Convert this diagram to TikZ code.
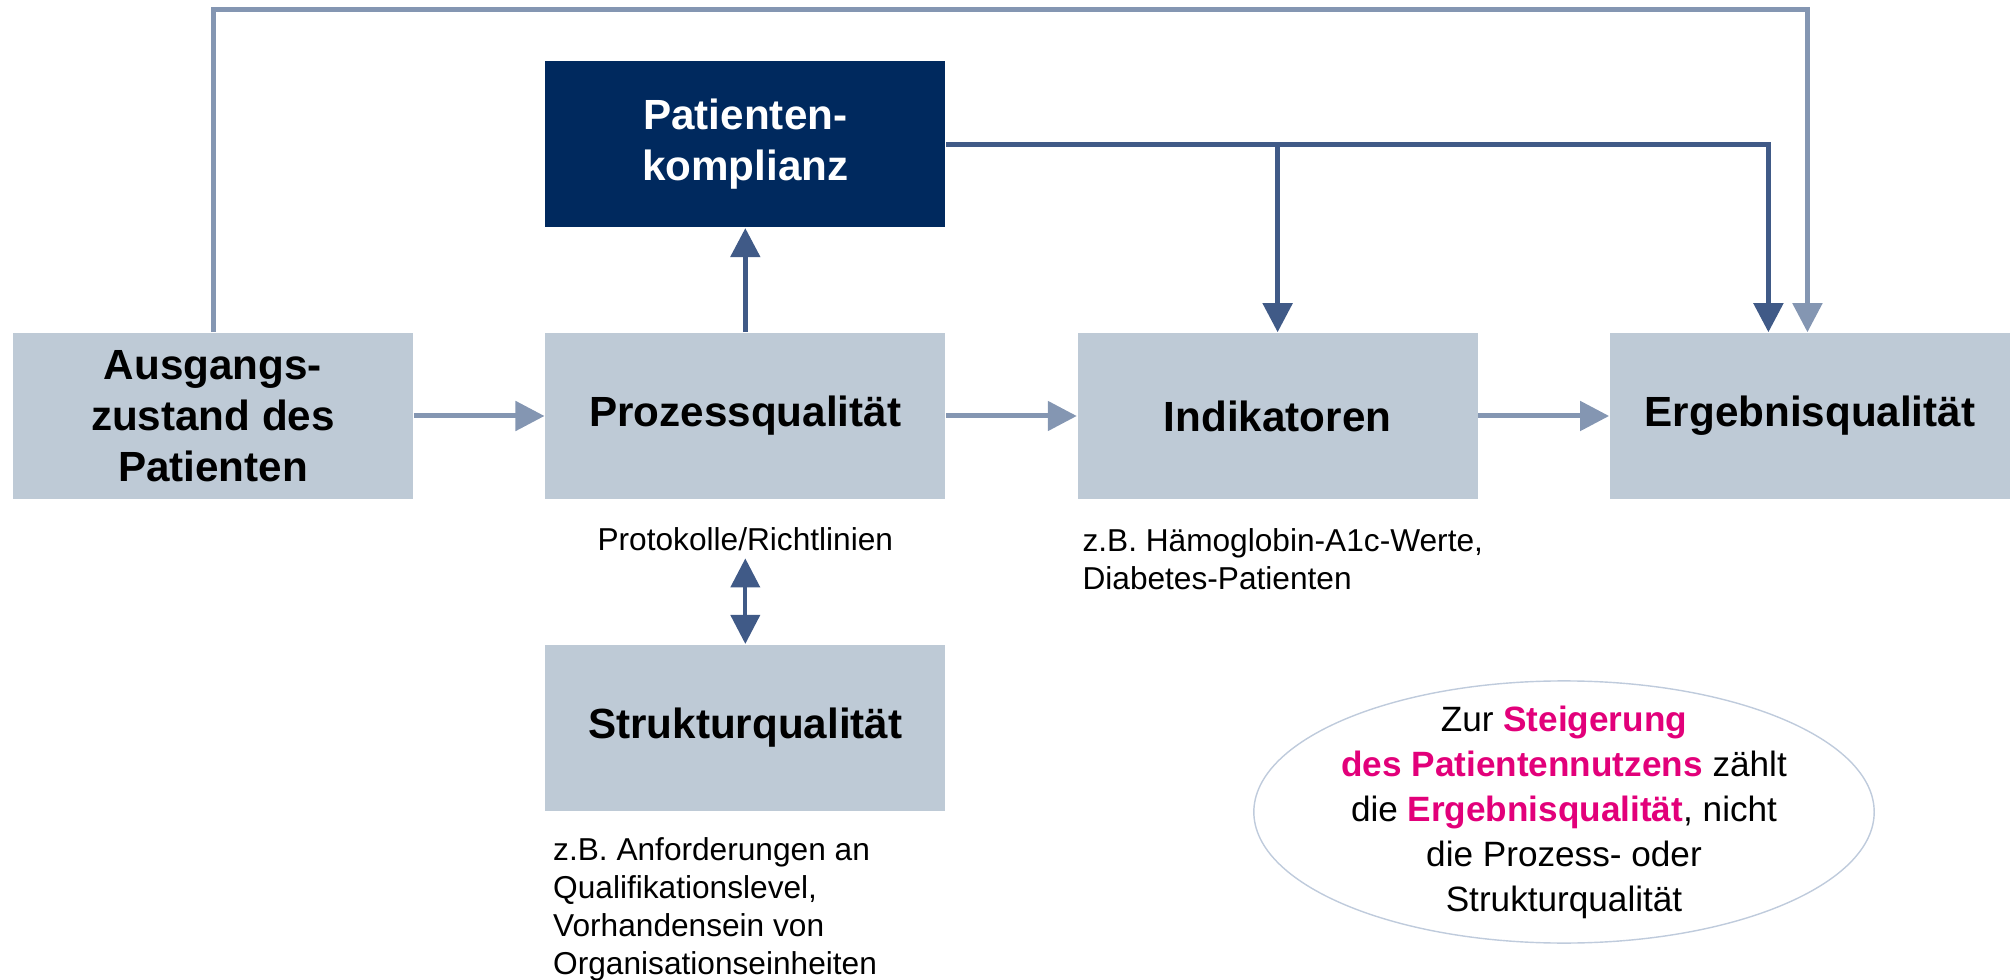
\documentclass[tikz,border=0pt]{standalone}
\usepackage{fontspec}
\setmainfont{Liberation Sans}
\usetikzlibrary{arrows.meta,positioning}
\definecolor{boxgrau}{HTML}{BECAD6}
\definecolor{marine}{HTML}{00295E}
\definecolor{pfeilhell}{HTML}{8496B2}
\definecolor{pfeildunkel}{HTML}{405A87}
\definecolor{akzent}{HTML}{E2007A}
\definecolor{randgrau}{HTML}{BFCBDC}
\newcommand{\hervor}[1]{\textcolor{akzent}{\textbf{#1}}}
\tikzset{
  box/.style={fill=boxgrau, minimum width=4cm, minimum height=1.66cm, align=center, font=\bfseries\fontsize{12}{14.5}\selectfont},
  darkbox/.style={box, fill=marine, text=white},
  note/.style={inner sep=0pt, align=left, font=\fontsize{9}{10.8}\selectfont},
  fazit/.style={inner sep=0pt, align=center, font=\fontsize{10}{12.8}\selectfont},
  spitze/.style={-{Triangle[length=0.29cm, width=0.29cm]}},
  hell/.style={spitze, draw=pfeilhell, line width=0.05cm},
  dunkel/.style={spitze, draw=pfeildunkel, line width=0.05cm},
  rim/.style={draw=randgrau, line width=0.4pt}
}
\begin{document}
\begin{tikzpicture}[x=0.01cm, y=0.01cm, node distance=5.32cm]
\useasboundingbox (0,0) rectangle (2013,-980);
\node[box] (ausgang) at (213,-416) {Ausgangs-\\zustand des\\Patienten};
\node[box] (prozess) [right of = ausgang] {Prozessqualität};
\node[box] (indikator) [right of = prozess] {Indikatoren};
\node[box] (ergebnis) [right of = indikator] {Ergebnisqualität};
\node[darkbox] (komplianz) [above of = prozess, node distance = 2.715cm] {Patienten-\\komplianz};
\node[box] (struktur) [below of = prozess, node distance = 3.115cm] {Strukturqualität};
\node[note, inner sep=2pt] (protokoll) [below of = prozess, node distance = 1.23cm] {Protokolle/Richtlinien};
\node[note] (anforderung) [below right = 0.25cm and 0.08cm of struktur.south west] {z.B. Anforderungen an\\Qualifikationslevel,\\Vorhandensein von\\Organisationseinheiten};
\node[note] (hba) [below right = 0.28cm and 0.05cm of indikator.south west] {z.B. Hämoglobin-A1c-Werte,\\Diabetes-Patienten};
\node[fazit] (fazit) at (1564,-812) {Zur \hervor{Steigerung}\\\hervor{des Patientennutzens} zählt\\die \hervor{Ergebnisqualität}, nicht\\die Prozess- oder\\Strukturqualität};
\draw[rim] (fazit.center) ellipse [x radius=3.1cm, y radius=1.31cm];
\coordinate (ziel1) at ([xshift=-0.415cm]ergebnis.north);
\coordinate (ziel2) at ([xshift=-0.025cm]ergebnis.north);
\coordinate (oben) at ([yshift=3.23cm]ziel2);
\coordinate (abzweig) at (komplianz -| indikator);
\draw[hell] (ausgang) -- (prozess);
\draw[hell] (prozess) -- (indikator);
\draw[hell] (indikator) -- (ergebnis);
\draw[hell] (ausgang) |- (oben) -- (ziel2);
\draw[dunkel] (prozess) -- (komplianz);
\draw[dunkel] (komplianz) -| (ziel1);
\draw[dunkel] (abzweig) -- (indikator);
\draw[dunkel, line width=0.04cm, {Triangle[length=0.29cm, width=0.29cm]}-{Triangle[length=0.29cm, width=0.29cm]}] (protokoll) -- (struktur);
\end{tikzpicture}
\end{document}
